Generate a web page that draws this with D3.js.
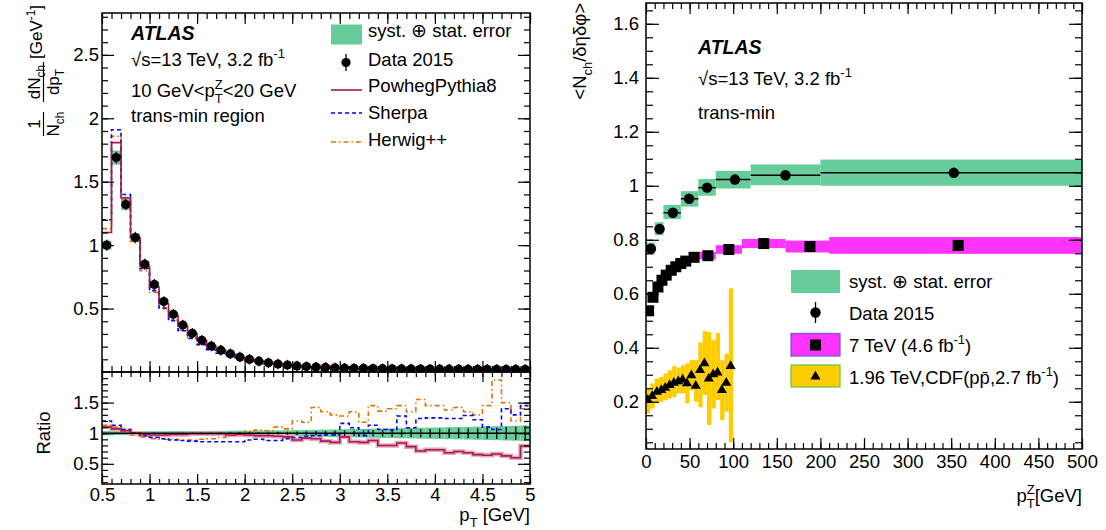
<!DOCTYPE html>
<html>
<head>
<meta charset="utf-8">
<script src="https://cdn.jsdelivr.net/npm/d3@7"></script>
<style>
  body { margin: 0; background: #fff; }
  svg { display: block; }
</style>
</head>
<body>
<svg id="chart" width="1106" height="530"></svg>
<script>
// ATLAS UE in Z events: pT spectrum (left) and <Nch/dEta dPhi> vs pT^Z (right)

const FONT = '"Liberation Sans", Arial, Helvetica, sans-serif';
const FS = 18.5;
const FS_TITLE = 17;

// ---------- left panel: charged-particle pT spectrum ----------
const PT_EDGES = [0.5,0.6,0.7,0.8,0.9,1.0,1.1,1.2,1.3,1.4,1.5,1.6,1.7,1.8,1.9,2.0,2.1,2.2,2.3,2.4,2.5,
  2.6,2.7,2.8,2.9,3.0,3.1,3.2,3.3,3.4,3.5,3.6,3.7,3.8,3.9,4.0,4.1,4.2,4.3,4.4,4.5,4.6,4.7,4.8,4.9,5.0];

const DATA_2015 = [1.00,1.69,1.32,1.06,0.85,0.69,0.555,0.455,0.37,0.305,0.25,0.205,0.172,0.143,0.118,
  0.100,0.085,0.073,0.063,0.055,0.048,0.043,0.039,0.036,0.033,0.031,0.029,0.028,0.027,0.026,
  0.025,0.024,0.024,0.023,0.023,0.022,0.022,0.022,0.021,0.021,0.021,0.020,0.020,0.020,0.020];

// MC / data ratios (read from the lower pad)
const POWHEG_RATIO = [1.10,1.07,1.04,1.00,0.98,0.97,0.97,0.98,0.98,0.99,0.99,0.99,0.99,0.97,0.98,
  0.97,0.96,0.96,0.95,0.94,0.89,0.92,0.91,0.87,0.85,0.94,0.86,0.85,0.88,0.80,
  0.80,0.84,0.78,0.71,0.73,0.73,0.68,0.70,0.68,0.65,0.64,0.66,0.63,0.60,0.79];
const SHERPA_RATIO = [1.20,1.13,1.06,1.00,0.96,0.93,0.91,0.89,0.88,0.87,0.86,0.86,0.86,0.86,0.86,
  0.89,0.90,0.88,0.88,0.91,0.93,0.95,0.96,0.97,0.97,1.16,1.09,0.96,1.13,1.06,
  1.05,1.28,1.09,1.24,1.25,1.25,1.24,1.24,1.29,1.22,1.10,1.06,1.40,1.30,1.45];
const HERWIG_RATIO = [1.13,1.10,1.03,0.97,0.94,0.91,0.90,0.90,0.89,0.89,0.90,0.91,0.93,0.97,1.01,
  1.03,1.05,1.04,1.10,1.07,1.20,1.18,1.42,1.35,1.30,1.28,1.35,1.18,1.45,1.36,
  1.40,1.45,1.35,1.55,1.45,1.45,1.38,1.42,1.35,1.30,1.45,1.87,1.50,1.20,1.40];

// relative syst (+) stat band half-width and relative stat error
const DATA_BAND = [0.035,0.033,0.032,0.032,0.032,0.033,0.033,0.034,0.035,0.036,0.037,0.038,0.039,0.040,0.041,
  0.042,0.043,0.044,0.046,0.048,0.050,0.053,0.056,0.059,0.062,0.065,0.068,0.071,0.074,0.077,
  0.080,0.083,0.086,0.089,0.092,0.095,0.098,0.101,0.104,0.107,0.110,0.114,0.118,0.122,0.126];
const DATA_STAT = [0.004,0.004,0.004,0.005,0.005,0.006,0.006,0.007,0.008,0.009,0.010,0.011,0.012,0.014,0.015,
  0.017,0.019,0.021,0.023,0.025,0.028,0.031,0.034,0.037,0.040,0.043,0.046,0.049,0.052,0.055,
  0.058,0.061,0.064,0.067,0.070,0.073,0.076,0.079,0.082,0.086,0.090,0.095,0.100,0.110,0.120];

const LEFT_X_TICKS = [0.5,1,1.5,2,2.5,3,3.5,4,4.5,5];
const LEFT_Y_TICKS = [0.5,1,1.5,2,2.5];
const RATIO_Y_TICKS = [0.5,1,1.5];

// ---------- right panel: <Nch/dEta dPhi> vs pT^Z ----------
const ATLAS_LO = [0,10,20,40,60,80,120,200];
const ATLAS_HI = [10,20,40,60,80,120,200,500];
const ATLAS_X = [5.7,15.6,30.8,49.4,70,102,160,353];
const ATLAS_Y = [0.767,0.840,0.900,0.952,0.993,1.023,1.039,1.048];
const ATLAS_BAND_LO = [0.745,0.817,0.877,0.923,0.963,0.990,1.002,1.000];
const ATLAS_BAND_HI = [0.790,0.865,0.929,0.980,1.025,1.055,1.079,1.097];

const TEV7_LO = [0,5,10,15,20,25,30,35,40,50,60,80,110,160,210];
const TEV7_HI = [5,10,15,20,25,30,35,40,50,60,80,110,160,210,500];
const TEV7_X = [3.0,8.0,13.7,18.3,23.2,28.9,34.2,39.9,45.6,55.1,71,95,135,188,358];
const TEV7_Y = [0.537,0.587,0.625,0.650,0.669,0.687,0.700,0.712,0.721,0.735,0.741,0.764,0.786,0.775,0.779];
const TEV7_ERR = [0.010,0.010,0.010,0.010,0.010,0.010,0.010,0.011,0.012,0.013,0.014,0.016,0.017,0.022,0.031];

const CDF_LO = [0,5,10,15,20,25,30,35,40,45,50,55,60,65,70,75,80,85,90,95];
const CDF_HI = [5,10,15,20,25,30,35,40,45,50,55,60,65,70,75,80,85,90,95,100];
const CDF_X = [2,7,12.5,17.5,22,27,32,37,42,47,52,57,62,67,72,77,82,87,92,97];
const CDF_Y = [0.206,0.221,0.237,0.243,0.252,0.262,0.270,0.276,0.282,0.268,0.298,0.259,0.317,0.342,0.286,
  0.302,0.308,0.243,0.270,0.332];
const CDF_BAND_LO = [0.157,0.175,0.194,0.200,0.206,0.212,0.218,0.231,0.231,0.194,0.243,0.200,0.180,0.225,0.114,
  0.175,0.206,0.132,0.163,0.050];
const CDF_BAND_HI = [0.249,0.268,0.286,0.292,0.305,0.317,0.332,0.327,0.335,0.342,0.354,0.354,0.420,0.462,0.458,
  0.428,0.455,0.354,0.378,0.620];

const RIGHT_X_TICKS = [0,50,100,150,200,250,300,350,400,450,500];
const RIGHT_Y_TICKS = [0.2,0.4,0.6,0.8,1,1.2,1.4,1.6];

// ---------- colours ----------
const C_BAND = "#66cc99";
const C_POWHEG = "#a31d4a";
const C_SHERPA = "#0000ff";
const C_HERWIG = "#e07400";
const C_MAGENTA = "#ff33ff";
const C_YELLOW = "#ffcc00";

// ---------------------------
// scales
// ---------------------------
const xL = d3.scaleLinear().domain([0.5, 5]).range([102, 530]);
const yTop = d3.scaleLinear().domain([0, 2.83]).range([372, 13]);
const yRat = d3.scaleLinear().domain([0.17, 2.0]).range([484, 372]);
const xR = d3.scaleLinear().domain([0, 500]).range([646, 1082]);
const yR = d3.scaleLinear().domain([0.025, 1.677]).range([449, 3]);

const svg = d3.select("#chart").attr("font-family", FONT);

const defs = svg.append("defs");
function clip(id, x0, y0, x1, y1) {
  defs.append("clipPath").attr("id", id)
    .append("rect").attr("x", x0).attr("y", y0).attr("width", x1 - x0).attr("height", y1 - y0);
  return `url(#${id})`;
}

// ---------------------------
// helpers
// ---------------------------
function stepPath(xs, ys, vals) {
  const pts = [];
  vals.forEach((v, i) => { pts.push([PT_EDGES[i], v]); pts.push([PT_EDGES[i + 1], v]); });
  return d3.line().x(d => xs(d[0])).y(d => ys(d[1]))(pts);
}

function axis(g, gen, vals, size, labelled, pad) {
  gen.tickValues(vals).tickSize(-size).tickPadding(pad || 5)
    .tickFormat(labelled ? d3.format("") : () => "");
  const s = g.append("g").call(gen);
  s.select(".domain").remove();
  s.selectAll("line").attr("stroke", "#000").attr("stroke-width", 1.2);
  s.selectAll("text").attr("fill", "#000").attr("font-size", FS).attr("font-family", FONT);
  return s;
}

function frameAxes(g, xs, ys, o) {
  const [x0, x1] = xs.range();
  const [yb, yt] = ys.range();
  g.append("rect").attr("x", x0).attr("y", yt).attr("width", x1 - x0).attr("height", yb - yt)
    .attr("fill", "none").attr("stroke", "#000").attr("stroke-width", 1.5);
  const yMin = d3.range(o.yMinor[0], o.yMinor[1], o.yMinor[2]);
  const xMin = d3.range(o.xMinor[0], o.xMinor[1], o.xMinor[2]);
  axis(g.append("g").attr("transform", `translate(${x0},0)`), d3.axisLeft(ys), o.yTicks, o.yMaj, true, o.yPad);
  axis(g.append("g").attr("transform", `translate(${x0},0)`), d3.axisLeft(ys), yMin, o.yMin, false);
  axis(g.append("g").attr("transform", `translate(${x1},0)`), d3.axisRight(ys), o.yTicks, o.yMaj, false);
  axis(g.append("g").attr("transform", `translate(${x1},0)`), d3.axisRight(ys), yMin, o.yMin, false);
  axis(g.append("g").attr("transform", `translate(0,${yb})`), d3.axisBottom(xs), o.xTicks, o.xMaj, o.xLabels, o.xPad);
  axis(g.append("g").attr("transform", `translate(0,${yb})`), d3.axisBottom(xs), xMin, o.xMin, false);
  axis(g.append("g").attr("transform", `translate(0,${yt})`), d3.axisTop(xs), o.xTicks, o.xMaj, false);
  axis(g.append("g").attr("transform", `translate(0,${yt})`), d3.axisTop(xs), xMin, o.xMin, false);
}

// rich text: parts = [{t, sup, sub, dx}]
function rich(sel, parts, size) {
  parts.forEach(p => {
    const ts = sel.append("tspan").text(p.t);
    if (p.sup) ts.attr("font-size", size * 0.7).attr("baseline-shift", size * 0.42);
    if (p.sub) ts.attr("font-size", size * 0.7).attr("baseline-shift", -size * 0.3);
    if (p.dx) ts.attr("dx", p.dx);
  });
  return sel;
}

function label(x, y, parts, opts = {}) {
  const t = svg.append("text").attr("x", x).attr("y", y)
    .attr("font-size", opts.size || FS).attr("fill", "#000")
    .attr("text-anchor", opts.anchor || "start");
  if (opts.bold) t.attr("font-weight", "bold");
  if (opts.italic) t.attr("font-style", "italic");
  return rich(t, parts, opts.size || FS);
}

// ---------------------------
// LEFT: top pad
// ---------------------------
const gTop = svg.append("g").attr("clip-path", clip("cTop", 102, 13, 530, 372));

gTop.selectAll("rect.band")
  .data(DATA_2015)
  .join("rect")
  .attr("x", (d, i) => xL(PT_EDGES[i]))
  .attr("width", (d, i) => xL(PT_EDGES[i + 1]) - xL(PT_EDGES[i]))
  .attr("y", (d, i) => yTop(d * (1 + DATA_BAND[i])))
  .attr("height", (d, i) => yTop(d * (1 - DATA_BAND[i])) - yTop(d * (1 + DATA_BAND[i])))
  .attr("fill", C_BAND);

const models = [
  { ratio: HERWIG_RATIO, color: C_HERWIG, dash: "5,3,1.5,3" },
  { ratio: SHERPA_RATIO, color: C_SHERPA, dash: "4,3" },
  { ratio: POWHEG_RATIO, color: C_POWHEG, dash: null }
];

models.forEach(m => {
  gTop.append("path")
    .attr("d", stepPath(xL, yTop, DATA_2015.map((d, i) => d * m.ratio[i])))
    .attr("fill", "none").attr("stroke", m.color).attr("stroke-width", 1.6)
    .attr("stroke-dasharray", m.dash);
});

gTop.selectAll("line.err")
  .data(DATA_2015)
  .join("line")
  .attr("x1", (d, i) => xL((PT_EDGES[i] + PT_EDGES[i + 1]) / 2))
  .attr("x2", (d, i) => xL((PT_EDGES[i] + PT_EDGES[i + 1]) / 2))
  .attr("y1", (d, i) => yTop(d * (1 + DATA_STAT[i])) - 5)
  .attr("y2", (d, i) => yTop(d * (1 - DATA_STAT[i])) + 5)
  .attr("stroke", "#000").attr("stroke-width", 1.2);

gTop.selectAll("circle")
  .data(DATA_2015)
  .join("circle")
  .attr("cx", (d, i) => xL((PT_EDGES[i] + PT_EDGES[i + 1]) / 2))
  .attr("cy", d => yTop(d))
  .attr("r", 4.6)
  .attr("fill", "#000");

frameAxes(svg.append("g"), xL, yTop, {
  yTicks: LEFT_Y_TICKS, yMinor: [0.1, 2.83, 0.1], yMaj: 12, yMin: 6, yPad: 3,
  xTicks: LEFT_X_TICKS, xMinor: [0.5, 5.001, 0.1], xMaj: 11, xMin: 6, xLabels: false
});

// ---------------------------
// LEFT: ratio pad
// ---------------------------
const gRat = svg.append("g").attr("clip-path", clip("cRat", 102, 372, 530, 484));

gRat.selectAll("rect.band")
  .data(DATA_BAND)
  .join("rect")
  .attr("x", (d, i) => xL(PT_EDGES[i]))
  .attr("width", (d, i) => xL(PT_EDGES[i + 1]) - xL(PT_EDGES[i]))
  .attr("y", d => yRat(1 + d))
  .attr("height", d => yRat(1 - d) - yRat(1 + d))
  .attr("fill", C_BAND);

gRat.append("path")
  .attr("d", stepPath(xL, yRat, POWHEG_RATIO))
  .attr("fill", "none").attr("stroke", "#e7a7bb").attr("stroke-width", 4.5);

models.forEach(m => {
  gRat.append("path")
    .attr("d", stepPath(xL, yRat, m.ratio))
    .attr("fill", "none").attr("stroke", m.color).attr("stroke-width", 1.6)
    .attr("stroke-dasharray", m.dash);
});

gRat.append("line")
  .attr("x1", xL(0.5)).attr("x2", xL(5)).attr("y1", yRat(1)).attr("y2", yRat(1))
  .attr("stroke", "#000").attr("stroke-width", 1.6);

gRat.selectAll("line.stat")
  .data(DATA_STAT)
  .join("line")
  .attr("x1", (d, i) => xL((PT_EDGES[i] + PT_EDGES[i + 1]) / 2))
  .attr("x2", (d, i) => xL((PT_EDGES[i] + PT_EDGES[i + 1]) / 2))
  .attr("y1", d => yRat(1 + d))
  .attr("y2", d => yRat(1 - d))
  .attr("stroke", "#000").attr("stroke-width", 1.3);

frameAxes(svg.append("g"), xL, yRat, {
  yTicks: RATIO_Y_TICKS, yMinor: [0.2, 1.95, 0.1], yMaj: 12, yMin: 6, yPad: 3,
  xTicks: LEFT_X_TICKS, xMinor: [0.5, 5.001, 0.1], xMaj: 10, xMin: 5, xLabels: true, xPad: 4
});

// left annotations
label(131, 40, [{ t: "ATLAS" }], { bold: true, italic: true, size: 19.5 });
label(131, 66, [{ t: "√s=13 TeV, 3.2 fb" }, { t: "-1", sup: true }]);
label(131, 97, [{ t: "10 GeV<p" }, { t: "Z", sup: true }, { t: "T", sub: true, dx: -7.9 }, { t: "<20 GeV" }]);
label(131, 122, [{ t: "trans-min region" }]);

// left legend
const legL = svg.append("g");
legL.append("rect").attr("x", 331).attr("y", 24.5).attr("width", 31).attr("height", 20).attr("fill", C_BAND);
legL.append("line").attr("x1", 346).attr("x2", 346).attr("y1", 54).attr("y2", 71).attr("stroke", "#000").attr("stroke-width", 1.3);
legL.append("circle").attr("cx", 346).attr("cy", 62.5).attr("r", 4.6).attr("fill", "#000");
[[C_POWHEG, null, 90], [C_SHERPA, "4,3", 113], [C_HERWIG, "5,3,1.5,3", 142]].forEach(([c, dash, y]) => {
  legL.append("line").attr("x1", 331).attr("x2", 362).attr("y1", y).attr("y2", y)
    .attr("stroke", c).attr("stroke-width", 1.6).attr("stroke-dasharray", dash);
});
label(368, 37, [{ t: "syst. ⊕ stat. error" }]);
label(368, 66, [{ t: "Data 2015" }]);
label(368, 92, [{ t: "PowhegPythia8" }]);
label(368, 118.5, [{ t: "Sherpa" }]);
label(368, 146, [{ t: "Herwig++" }]);

// left axis titles (rotated)
function rotGroup(x, y) {
  return svg.append("g").attr("transform", `translate(${x},${y}) rotate(-90)`);
}
{
  const f1 = rotGroup(43.5, 124);
  f1.append("line").attr("x1", -12).attr("x2", 12).attr("y1", 0).attr("y2", 0).attr("stroke", "#000").attr("stroke-width", 1.2);
  f1.append("text").attr("x", 0).attr("y", -4).attr("text-anchor", "middle").attr("font-size", FS_TITLE).text("1");
  rich(f1.append("text").attr("x", 0).attr("y", 15).attr("text-anchor", "middle").attr("font-size", FS_TITLE),
    [{ t: "N" }, { t: "ch", sub: true }], FS_TITLE);

  const f2 = rotGroup(43.5, 82);
  f2.append("line").attr("x1", -20).attr("x2", 20).attr("y1", 0).attr("y2", 0).attr("stroke", "#000").attr("stroke-width", 1.2);
  rich(f2.append("text").attr("x", 0).attr("y", -4).attr("text-anchor", "middle").attr("font-size", FS_TITLE),
    [{ t: "dN" }, { t: "ch", sub: true }], FS_TITLE);
  rich(f2.append("text").attr("x", 0).attr("y", 15).attr("text-anchor", "middle").attr("font-size", FS_TITLE),
    [{ t: "dp" }, { t: "T", sub: true }], FS_TITLE);

  const f3 = rotGroup(43.5, 59);
  rich(f3.append("text").attr("x", 0).attr("y", -2).attr("text-anchor", "start").attr("font-size", FS_TITLE),
    [{ t: "[GeV" }, { t: "-1", sup: true }, { t: "]" }], FS_TITLE);

  rotGroup(50, 433).append("text").attr("text-anchor", "middle").attr("font-size", FS).text("Ratio");
}
label(530, 521, [{ t: "p" }, { t: "T", sub: true }, { t: " [GeV]" }], { anchor: "end" });

// ---------------------------
// RIGHT panel
// ---------------------------
const gR = svg.append("g").attr("clip-path", clip("cR", 646, 3, 1082, 449));

gR.selectAll("rect.atlas")
  .data(ATLAS_Y)
  .join("rect")
  .attr("x", (d, i) => xR(ATLAS_LO[i]))
  .attr("width", (d, i) => xR(ATLAS_HI[i]) - xR(ATLAS_LO[i]))
  .attr("y", (d, i) => yR(ATLAS_BAND_HI[i]))
  .attr("height", (d, i) => yR(ATLAS_BAND_LO[i]) - yR(ATLAS_BAND_HI[i]))
  .attr("fill", C_BAND);

gR.selectAll("rect.tev7")
  .data(TEV7_Y)
  .join("rect")
  .attr("x", (d, i) => xR(TEV7_LO[i]))
  .attr("width", (d, i) => xR(TEV7_HI[i]) - xR(TEV7_LO[i]))
  .attr("y", (d, i) => yR(d + TEV7_ERR[i]))
  .attr("height", (d, i) => yR(d - TEV7_ERR[i]) - yR(d + TEV7_ERR[i]))
  .attr("fill", C_MAGENTA);

gR.selectAll("rect.cdf")
  .data(CDF_Y)
  .join("rect")
  .attr("x", (d, i) => xR(CDF_LO[i]))
  .attr("width", (d, i) => xR(CDF_HI[i]) - xR(CDF_LO[i]))
  .attr("y", (d, i) => yR(CDF_BAND_HI[i]))
  .attr("height", (d, i) => yR(CDF_BAND_LO[i]) - yR(CDF_BAND_HI[i]))
  .attr("fill", C_YELLOW);

gR.selectAll("line.atlasx")
  .data(ATLAS_Y)
  .join("line")
  .attr("x1", (d, i) => xR(ATLAS_LO[i]))
  .attr("x2", (d, i) => xR(ATLAS_HI[i]))
  .attr("y1", d => yR(d)).attr("y2", d => yR(d))
  .attr("stroke", "#000").attr("stroke-width", 1.5);

gR.selectAll("circle")
  .data(ATLAS_Y)
  .join("circle")
  .attr("cx", (d, i) => xR(ATLAS_X[i]))
  .attr("cy", d => yR(d))
  .attr("r", 5.2)
  .attr("fill", "#000");

gR.selectAll("rect.sq")
  .data(TEV7_Y)
  .join("rect")
  .attr("x", (d, i) => xR(TEV7_X[i]) - 5.5)
  .attr("y", d => yR(d) - 5.5)
  .attr("width", 11).attr("height", 11)
  .attr("fill", "#000");

const tri = d3.symbol().type(d3.symbolTriangle).size(44);
gR.selectAll("path.tri")
  .data(CDF_Y)
  .join("path")
  .attr("transform", (d, i) => `translate(${xR(CDF_X[i])},${yR(d)})`)
  .attr("d", tri)
  .attr("fill", "#000");

frameAxes(svg.append("g"), xR, yR, {
  yTicks: RIGHT_Y_TICKS, yMinor: [0.05, 1.677, 0.05], yMaj: 13, yMin: 7, yPad: 7,
  xTicks: RIGHT_X_TICKS, xMinor: [0, 500.01, 10], xMaj: 11, xMin: 6, xLabels: true, xPad: 6
});

// right annotations
label(698, 54, [{ t: "ATLAS" }], { bold: true, italic: true, size: 19.5 });
label(698, 85, [{ t: "√s=13 TeV, 3.2 fb" }, { t: "-1", sup: true }]);
label(698, 119, [{ t: "trans-min" }]);

// right legend
const legR = svg.append("g");
legR.append("rect").attr("x", 791).attr("y", 270).attr("width", 49).attr("height", 23).attr("fill", C_BAND);
legR.append("line").attr("x1", 815.5).attr("x2", 815.5).attr("y1", 302).attr("y2", 323).attr("stroke", "#000").attr("stroke-width", 1.3);
legR.append("circle").attr("cx", 815.5).attr("cy", 312.5).attr("r", 5.2).attr("fill", "#000");
legR.append("rect").attr("x", 791).attr("y", 333.5).attr("width", 49).attr("height", 22.5)
  .attr("fill", C_MAGENTA).attr("stroke", "#6f5fd8").attr("stroke-width", 1.3);
legR.append("rect").attr("x", 810).attr("y", 339.5).attr("width", 11).attr("height", 11).attr("fill", "#000");
legR.append("rect").attr("x", 791).attr("y", 365).attr("width", 49).attr("height", 22)
  .attr("fill", C_YELLOW).attr("stroke", "#6acc44").attr("stroke-width", 1.3);
legR.append("path").attr("transform", "translate(815.5,376.5)").attr("d", tri).attr("fill", "#000");

label(849, 288, [{ t: "syst. ⊕ stat. error" }]);
label(849, 320, [{ t: "Data 2015" }]);
label(849, 352, [{ t: "7 TeV (4.6 fb" }, { t: "-1", sup: true }, { t: ")" }]);
label(849, 383.5, [{ t: "1.96 TeV,CDF(p" }, { t: "p\u0304" }, { t: ",2.7 fb" }, { t: "-1", sup: true }, { t: ")" }]);

// right axis titles
rich(rotGroup(586, 3).append("text").attr("text-anchor", "end").attr("font-size", FS),
  [{ t: "<N" }, { t: "ch", sub: true }, { t: "/δηδφ>" }], FS);
label(1082, 502, [{ t: "p" }, { t: "Z", sup: true }, { t: "T", sub: true, dx: -7.9 }, { t: "[GeV]" }], { anchor: "end" });
</script>
</body>
</html>
